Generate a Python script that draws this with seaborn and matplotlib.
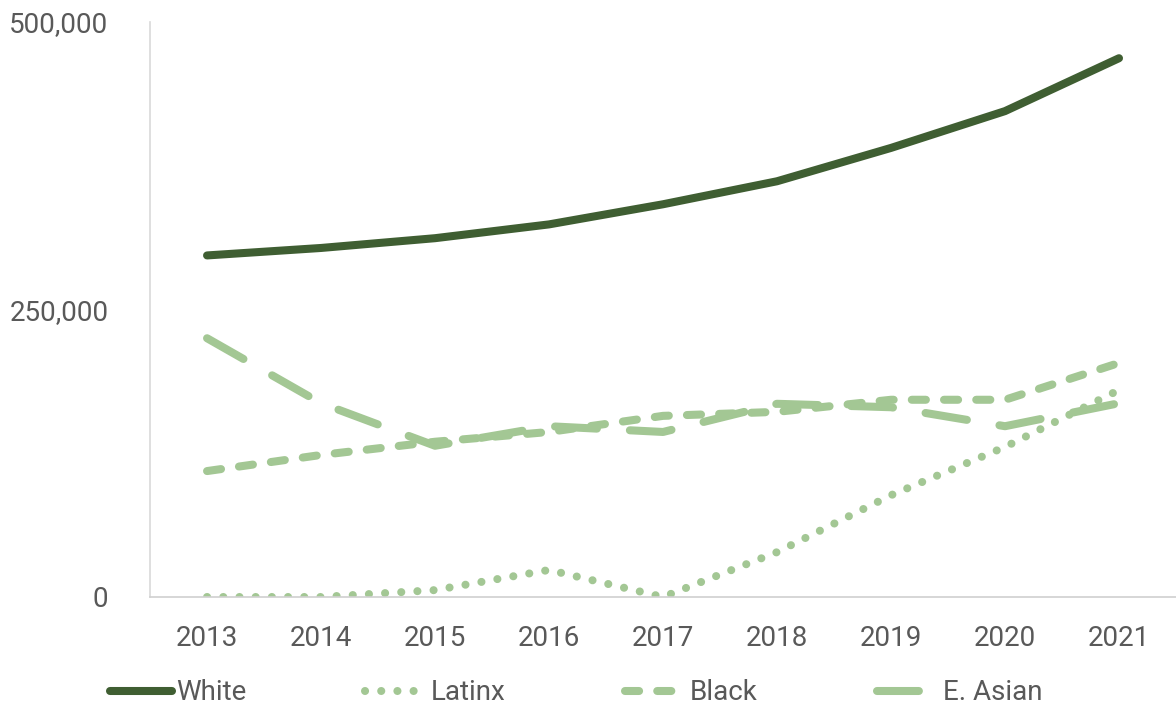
import numpy as np
import pandas as pd
import matplotlib
matplotlib.use("Agg")
import matplotlib.pyplot as plt
import seaborn as sns

# values
years = [2013, 2014, 2015, 2016, 2017, 2018, 2019, 2020, 2021]
white = [297000, 303500, 312000, 324000, 341500, 361500, 390500, 422500, 468500]
latinx = [0, 0, 6000, 23500, 0, 39000, 88500, 130500, 180000]
black = [109500, 123500, 135000, 143500, 157500, 161000, 171500, 171500, 203500]
e_asian = [225000, 168500, 131500, 148500, 143500, 168000, 165000, 148500, 168500]

series = {"White": white, "Latinx": latinx, "Black": black, "E. Asian": e_asian}

dark = "#3f5e32"
light = "#a3c794"
text_col = "#595959"

styles = {
    "White": dict(color=dark, linestyle="-"),
    "Latinx": dict(color=light, linestyle=(0, (0.01, 2.0))),
    "Black": dict(color=light, linestyle=(0, (1.75, 2.25))),
    "E. Asian": dict(color=light, linestyle=(0, (5.2, 4.1))),
}

sns.set_style("white")
plt.rcParams["font.family"] = ["Roboto", "DejaVu Sans"]

fig = plt.figure(figsize=(11.76, 7.07), dpi=100)
ax = fig.add_axes([0.1276, 0.1556, 0.8724, 0.8133])

for name, vals in series.items():
    df = pd.DataFrame({"year": years, "value": vals})
    sns.lineplot(data=df, x="year", y="value", ax=ax, label=name,
                 linewidth=5.8, solid_capstyle="round", dash_capstyle="round",
                 **styles[name])

ax.set_xlim(2012.5, 2021.5)
ax.set_ylim(0, 500000)
ax.set_xticks(years)
ax.set_xticklabels([str(y) for y in years])
ax.set_yticks([0, 250000, 500000])
ax.set_yticklabels(["0", "250,000", "500,000"])
ax.set_xlabel("")
ax.set_ylabel("")
ax.tick_params(axis="both", length=0, labelsize=20, colors=text_col)
ax.tick_params(axis="y", pad=30)
ax.tick_params(axis="x", pad=20)

for s in ["top", "right"]:
    ax.spines[s].set_visible(False)
ax.spines["left"].set_color("#d9d9d9")
ax.spines["bottom"].set_color("#d0d0d0")
ax.spines["left"].set_linewidth(1.2)
ax.spines["bottom"].set_linewidth(1.2)

leg = ax.legend(loc="upper left", bbox_to_anchor=(-0.063, -0.1), ncol=4,
                frameon=False, fontsize=20, handlelength=2.2, handletextpad=0.15,
                columnspacing=4.3, labelcolor=text_col)

fig.savefig("out.png", dpi=100)
